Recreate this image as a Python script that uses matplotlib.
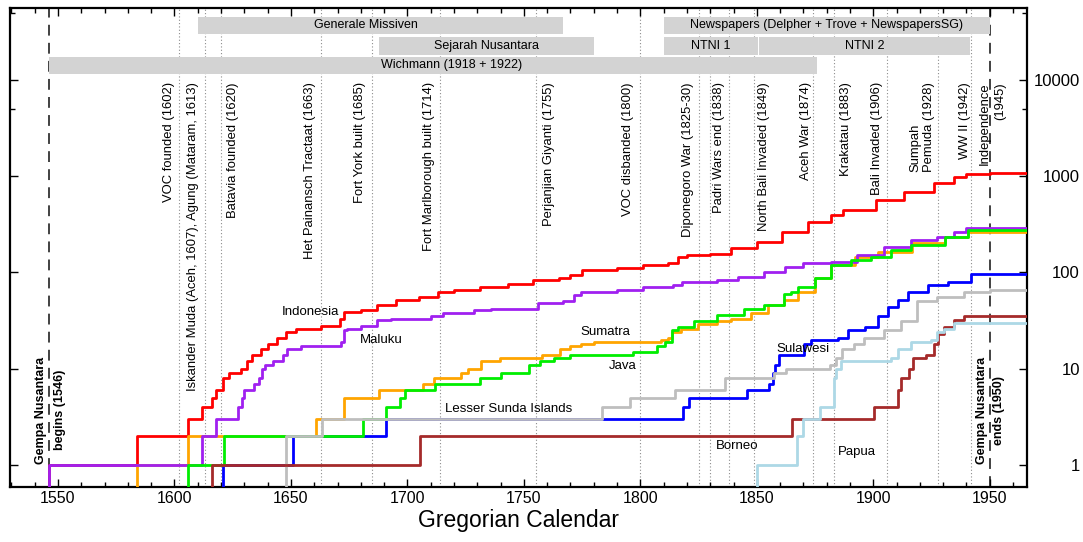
import numpy as np
import matplotlib
matplotlib.use('Agg')
import matplotlib.pyplot as plt
import matplotlib.transforms as mtransforms
from matplotlib.ticker import FixedLocator, MultipleLocator, NullFormatter

plt.rcParams['font.family'] = ['Liberation Sans', 'DejaVu Sans']

# cumulative counts per region (year, count)
indonesia_years = [1546, 1584, 1606, 1612, 1616, 1618, 1621, 1623.5, 1628.5, 1631, 1633.5, 1637, 1640, 1644,
                   1648, 1652, 1663, 1671, 1673, 1680, 1687, 1695, 1705, 1713, 1720, 1731, 1743, 1754, 1765,
                   1770, 1775, 1790, 1801, 1812, 1816, 1820, 1830, 1839, 1850, 1861, 1872, 1882, 1887, 1901,
                   1913, 1926, 1934.5, 1940, 1950]
indonesia_counts = [1, 2, 3, 4, 5, 6, 8, 9, 10, 12, 14, 16, 18, 21, 24, 26, 28, 33, 39, 41, 46, 52, 56, 62, 66,
                    70, 76, 83, 88, 94, 106, 112, 119, 124, 145, 150, 157, 177, 208, 265, 336, 393, 443, 565,
                    690, 840, 970, 1050, 1085]

maluku_years = [1546, 1612, 1617.7, 1627.4, 1629, 1630, 1634, 1636.4, 1637.5, 1639, 1642.4, 1646.7, 1648.5,
                1654.5, 1671.5, 1673, 1674, 1680, 1687, 1693, 1710, 1715.5, 1728.5, 1736, 1756, 1767, 1771.4,
                1774.5, 1790, 1801, 1814, 1818, 1833, 1842, 1853, 1862, 1870, 1882, 1893, 1904.5, 1916,
                1927.5, 1934.5, 1940]
maluku_counts = [1, 2, 3, 4, 5, 6, 7, 8, 10, 11, 12, 14, 16, 17, 19, 25, 26, 28, 32, 33, 35, 38, 41, 42, 48,
                 50, 58, 63, 66, 71, 74, 80, 83, 90, 102, 114, 124, 129, 150, 185, 217, 235, 265, 286]

sumatra_years = [1584, 1606, 1660.7, 1672.7, 1688, 1706.5, 1711.5, 1723, 1726, 1731.8, 1739.6, 1757.6, 1765.6,
                 1770, 1774.5, 1780, 1808.8, 1811.7, 1813.8, 1817.5, 1824.6, 1833, 1839, 1847.5, 1854.6,
                 1861.8, 1867.6, 1874.8, 1882, 1892, 1902, 1916.5, 1930.8, 1940.5]
sumatra_counts = [1, 2, 3, 5, 6, 7, 8, 9, 10, 12, 13, 14, 16, 17, 18, 19, 20, 21, 24, 26, 29, 31, 33, 38, 46,
                  52, 63, 87, 119, 145, 164, 200, 235, 260]

java_years = [1606, 1621.4, 1681, 1691, 1696.7, 1699, 1712, 1731, 1740.4, 1752, 1757, 1763, 1770, 1797, 1807,
              1810.6, 1813.5, 1816, 1823, 1833, 1844.6, 1853, 1861.8, 1864.6, 1867.6, 1874.8, 1882, 1890.6,
              1899, 1907.7, 1916, 1930.8, 1940.5]
java_counts = [1, 2, 3, 4, 5, 6, 7, 8, 9, 11, 12, 13, 14, 15, 17, 19, 25, 27, 31, 36, 42, 46, 60, 63, 71, 87,
               119, 134, 145, 171, 192, 235, 275]

sulawesi_years = [1620.7, 1651, 1691, 1818.5, 1821, 1846, 1855.3, 1856.8, 1857.8, 1859.7, 1870.4, 1873.3,
                  1884.8, 1889, 1896.3, 1902, 1906.3, 1910.6, 1915, 1923.5, 1932, 1942]
sulawesi_counts = [1, 2, 3, 4, 5, 6, 7, 9, 11, 14, 18, 20, 21, 25, 27, 35, 44, 52, 63, 74, 80, 96]

sunda_years = [1648, 1663.4, 1783.5, 1795.6, 1815, 1836.4, 1857.6, 1862.6, 1881.6, 1883.8, 1886.6, 1891.6,
               1896, 1904.6, 1911.7, 1918.9, 1927.5, 1939, 1950]
sunda_counts = [2, 3, 4, 5, 6, 8, 9, 10, 11, 13, 16, 18, 21, 25, 31, 50, 56, 63, 65]

borneo_years = [1616, 1705.4, 1865, 1900.5, 1910.5, 1912, 1915.5, 1917, 1922.6, 1926.2, 1927.6, 1930.4,
                1934.7, 1939]
borneo_counts = [1, 2, 3, 4, 6, 8, 10, 13, 14, 18, 23, 27, 32, 35]

papua_years = [1850.3, 1867.3, 1869.9, 1877, 1883.3, 1884, 1886, 1907.6, 1910.6, 1916.3, 1925, 1927.5,
               1930.4, 1934.7]
papua_counts = [1, 2, 3, 4, 8, 10, 12, 13, 16, 19, 20, 24, 26, 30]

# historical events
event_years = [1602, 1613, 1620, 1663, 1685, 1714, 1755, 1800, 1825, 1830, 1838, 1849, 1874, 1883, 1906,
               1928, 1942]
event_labels = ["VOC founded (1602)", "Iskander Muda (Aceh, 1607), Agung (Mataram, 1613)",
                "Batavia founded (1620)", "Het Painansch Tractaat (1663)", "Fort York built (1685)",
                "Fort Marlborough built (1714)", "Perjanjian Giyanti (1755)", "VOC disbanded (1800)",
                "Diponegoro War (1825-30)", "Padri Wars end (1838)", "North Bali Invaded (1849)",
                "Aceh War (1874)", "Krakatau (1883)", "Bali Invaded (1906)", "Sumpah\nPemuda (1928)",
                "WW II (1942)", "Independence\n(1945)"]

# sources (name, start, end, row)
source_names = ["Generale Missiven", "Newspapers (Delpher + Trove + NewspapersSG)", "Sejarah Nusantara",
                "NTNI 1", "NTNI 2", "Wichmann (1918 + 1922)"]
source_start = [1610, 1810, 1688, 1810, 1851, 1546]
source_end = [1767, 1950, 1780, 1850.4, 1941.5, 1876]
source_row = [0, 0, 1, 1, 1, 2]

gempa_start, gempa_end = 1546, 1950

# layout
event_label_x = [1597.6, 1607.9, 1625.0, 1658.2, 1679.6, 1709.2, 1760.6, 1794.6, 1820.4, 1833.8, 1853,
                 1871.3, 1888.5, 1901.4, 1921.1, 1939.3, 1951.1]
source_label_x = [1682.4, None, None, None, None, 1719]
row_span = [(0.945, 0.982), (0.902, 0.9405), (0.862, 0.898)]

XMIN, XMAX = 1529.4, 1966
YMIN, YMAX = 0.59, 55700

fig = plt.figure(figsize=(10.83, 5.42), dpi=100)
ax = fig.add_axes([10 / 1083, 55 / 542, 1017 / 1083, 479 / 542])
ax.set_xlim(XMIN, XMAX)
ax.set_yscale('log')
ax.set_ylim(YMIN, YMAX)

trans = mtransforms.blended_transform_factory(ax.transData, ax.transAxes)

for yr in event_years:
    ax.axvline(yr, color='#8c8c8c', lw=0.8, ls=(0, (1, 2)), zorder=1)
for yr in (gempa_start, gempa_end):
    ax.axvline(yr, color='#333333', lw=1.3, ls=(0, (6, 4)), zorder=1)

for name, x0, x1, row, lx in zip(source_names, source_start, source_end, source_row, source_label_x):
    lo, hi = row_span[row]
    ax.axvspan(x0, x1, ymin=lo, ymax=hi, color='#d3d3d3', lw=0, zorder=2)
    tx = lx if lx is not None else (x0 + x1) / 2
    ax.text(tx, (lo + hi) / 2, name, transform=trans, ha='center', va='center', fontsize=9, zorder=3)

for lab, lx in zip(event_labels, event_label_x):
    ma, ls = 'center', 1.2
    if lab.startswith('Sumpah'):
        ma, ls = 'left', 1.15
    elif lab.startswith('Independence'):
        ma, ls = 'right', 1.45
    ax.text(lx, 0.8455, lab, transform=trans, rotation=90, ha='center', va='top', fontsize=9.4,
            multialignment=ma, linespacing=ls, zorder=3)

series = [
    (indonesia_years, indonesia_counts, '#ff0000'),
    (sumatra_years, sumatra_counts, '#ffa500'),
    (maluku_years, maluku_counts, '#a020f0'),
    (sulawesi_years, sulawesi_counts, '#0000ff'),
    (java_years, java_counts, '#00ee00'),
    (sunda_years, sunda_counts, '#bebebe'),
    (borneo_years, borneo_counts, '#a52a2a'),
    (papua_years, papua_counts, '#add8e6'),
]
for yrs, cnt, col in series:
    xs = np.concatenate([[yrs[0]], yrs, [XMAX]])
    ys = np.concatenate([[YMIN * 0.5], cnt, [cnt[-1]]])
    ax.step(xs, ys, where='post', color=col, lw=2.0, zorder=4)

series_labels = [("Indonesia", 1658.2, 39.1), ("Maluku", 1688.9, 19.9), ("Sumatra", 1784.8, 24.2),
                 ("Java", 1792.4, 10.7), ("Lesser Sunda Islands", 1743.6, 3.79), ("Sulawesi", 1869.7, 15.9),
                 ("Borneo", 1841.6, 1.57), ("Papua", 1892.8, 1.37)]
for lab, lx, ly in series_labels:
    ax.text(lx, ly, lab, ha='center', va='center', fontsize=9.5, zorder=5)

ax.text(gempa_start + 0.8, 1.03, "Gempa Nusantara\nbegins (1546)", rotation=90, ha='center', va='bottom',
        fontsize=9, fontweight='bold', multialignment='center', linespacing=1.85, zorder=5)
ax.text(gempa_end + 0.5, 1.03, "Gempa Nusantara\nends (1950)", rotation=90, ha='center', va='bottom',
        fontsize=9, fontweight='bold', multialignment='center', linespacing=1.55, zorder=5)

ax.xaxis.set_major_locator(MultipleLocator(50))
ax.xaxis.set_minor_locator(MultipleLocator(10))
ax.yaxis.set_major_locator(FixedLocator([1, 10, 100, 1000, 10000]))
ax.yaxis.set_minor_locator(FixedLocator([5000, 50000]))
ax.yaxis.set_minor_formatter(NullFormatter())
ax.tick_params(axis='both', which='both', direction='in', top=True, right=True)
ax.tick_params(axis='both', which='major', length=6, width=1)
ax.tick_params(axis='both', which='minor', length=3.5, width=1)
ax.tick_params(axis='x', labelsize=11.5, pad=3)
ax.tick_params(axis='y', labelleft=False, labelright=True, labelsize=12, pad=38)
ax.set_yticklabels(['1', '10', '100', '1000', '10000'])
for t in ax.get_yticklabels():
    t.set_ha('right')

ax.set_xlabel('Gregorian Calendar', fontsize=16.5, labelpad=2)
for s in ax.spines.values():
    s.set_linewidth(1.6)

fig.savefig('out.png', dpi=100)
